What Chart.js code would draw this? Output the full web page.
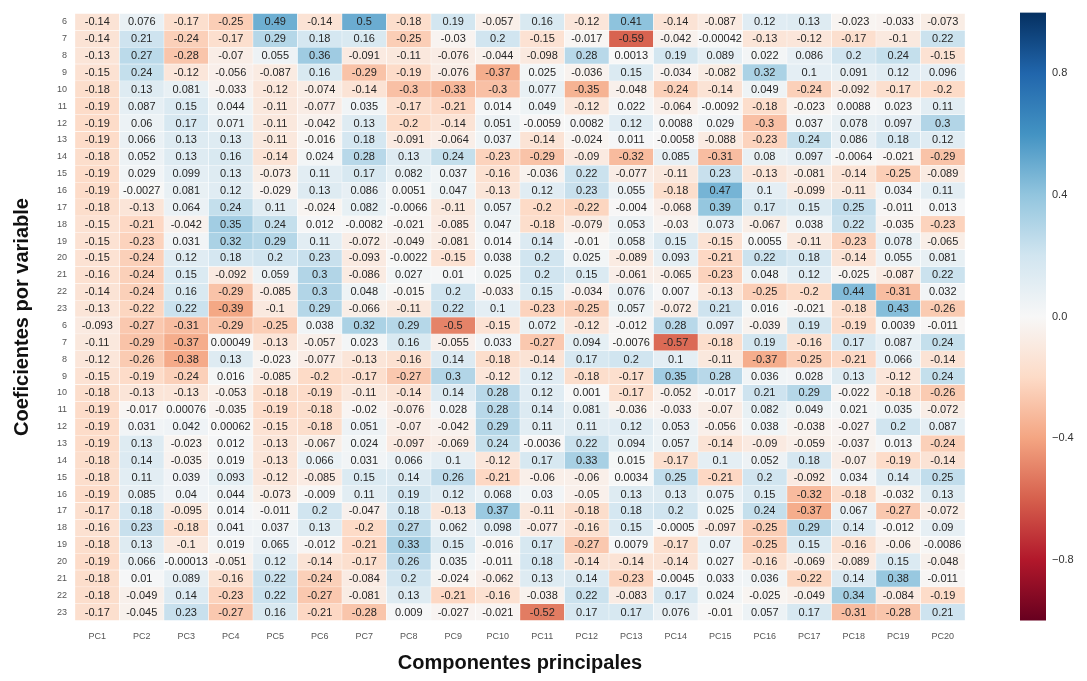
<!DOCTYPE html>
<html>
<head>
<meta charset="utf-8">
<script src="https://cdn.jsdelivr.net/npm/chart.js@4.4.1/dist/chart.umd.min.js"></script>
<style>
  html, body { margin: 0; padding: 0; background: #ffffff; }
  #wrap { position: relative; width: 1087px; height: 681px; overflow: hidden; }
  #main { position: absolute; left: 0; top: 0; width: 1000px; height: 681px; }
  #cbar { position: absolute; left: 1000px; top: 0; width: 87px; height: 681px; }
</style>
</head>
<body>
<div id="wrap">
  <div id="main"><canvas id="c1"></canvas></div>
  <div id="cbar"><canvas id="c2"></canvas></div>
</div>
<script>
// ---------------- DATA ----------------
const colLabels = ["PC1","PC2","PC3","PC4","PC5","PC6","PC7","PC8","PC9","PC10",
                   "PC11","PC12","PC13","PC14","PC15","PC16","PC17","PC18","PC19","PC20"];
const rowLabels = ["6","7","8","9","10","11","12","13","14","15","16","17","18","19","20","21","22","23",
                   "6","7","8","9","10","11","12","13","14","15","16","17","18","19","20","21","22","23"];
const colorbarTicks = [-0.8, -0.4, 0.0, 0.4, 0.8];

// first block of variables (rows 6..23)
const blockA = [
  [-0.14, 0.076, -0.17, -0.25, 0.49, -0.14, 0.5, -0.18, 0.19, -0.057, 0.16, -0.12, 0.41, -0.14, -0.087, 0.12, 0.13, -0.023, -0.033, -0.073],
  [-0.14, 0.21, -0.24, -0.17, 0.29, 0.18, 0.16, -0.25, -0.03, 0.2, -0.15, -0.017, -0.59, -0.042, -0.00042, -0.13, -0.12, -0.17, -0.1, 0.22],
  [-0.13, 0.27, -0.28, -0.07, 0.055, 0.36, -0.091, -0.11, -0.076, -0.044, -0.098, 0.28, 0.0013, 0.19, 0.089, 0.022, 0.086, 0.2, 0.24, -0.15],
  [-0.15, 0.24, -0.12, -0.056, -0.087, 0.16, -0.29, -0.19, -0.076, -0.37, 0.025, -0.036, 0.15, -0.034, -0.082, 0.32, 0.1, 0.091, 0.12, 0.096],
  [-0.18, 0.13, 0.081, -0.033, -0.12, -0.074, -0.14, -0.3, -0.33, -0.3, 0.077, -0.35, -0.048, -0.24, -0.14, 0.049, -0.24, -0.092, -0.17, -0.2],
  [-0.19, 0.087, 0.15, 0.044, -0.11, -0.077, 0.035, -0.17, -0.21, 0.014, 0.049, -0.12, 0.022, -0.064, -0.0092, -0.18, -0.023, 0.0088, 0.023, 0.11],
  [-0.19, 0.06, 0.17, 0.071, -0.11, -0.042, 0.13, -0.2, -0.14, 0.051, -0.0059, 0.0082, 0.12, 0.0088, 0.029, -0.3, 0.037, 0.078, 0.097, 0.3],
  [-0.19, 0.066, 0.13, 0.13, -0.11, -0.016, 0.18, -0.091, -0.064, 0.037, -0.14, -0.024, 0.011, -0.0058, -0.088, -0.23, 0.24, 0.086, 0.18, 0.12],
  [-0.18, 0.052, 0.13, 0.16, -0.14, 0.024, 0.28, 0.13, 0.24, -0.23, -0.29, -0.09, -0.32, 0.085, -0.31, 0.08, 0.097, -0.0064, -0.021, -0.29],
  [-0.19, 0.029, 0.099, 0.13, -0.073, 0.11, 0.17, 0.082, 0.037, -0.16, -0.036, 0.22, -0.077, -0.11, 0.23, -0.13, -0.081, -0.14, -0.25, -0.089],
  [-0.19, -0.0027, 0.081, 0.12, -0.029, 0.13, 0.086, 0.0051, 0.047, -0.13, 0.12, 0.23, 0.055, -0.18, 0.47, 0.1, -0.099, -0.11, 0.034, 0.11],
  [-0.18, -0.13, 0.064, 0.24, 0.11, -0.024, 0.082, -0.0066, -0.11, 0.057, -0.2, -0.22, -0.004, -0.068, 0.39, 0.17, 0.15, 0.25, -0.011, 0.013],
  [-0.15, -0.21, -0.042, 0.35, 0.24, 0.012, -0.0082, -0.021, -0.085, 0.047, -0.18, -0.079, 0.053, -0.03, 0.073, -0.067, 0.038, 0.22, -0.035, -0.23],
  [-0.15, -0.23, 0.031, 0.32, 0.29, 0.11, -0.072, -0.049, -0.081, 0.014, 0.14, -0.01, 0.058, 0.15, -0.15, 0.0055, -0.11, -0.23, 0.078, -0.065],
  [-0.15, -0.24, 0.12, 0.18, 0.2, 0.23, -0.093, -0.0022, -0.15, 0.038, 0.2, 0.025, -0.089, 0.093, -0.21, 0.22, 0.18, -0.14, 0.055, 0.081],
  [-0.16, -0.24, 0.15, -0.092, 0.059, 0.3, -0.086, 0.027, 0.01, 0.025, 0.2, 0.15, -0.061, -0.065, -0.23, 0.048, 0.12, -0.025, -0.087, 0.22],
  [-0.14, -0.24, 0.16, -0.29, -0.085, 0.3, 0.048, -0.015, 0.2, -0.033, 0.15, -0.034, 0.076, 0.007, -0.13, -0.25, -0.2, 0.44, -0.31, 0.032],
  [-0.13, -0.22, 0.22, -0.39, -0.1, 0.29, -0.066, -0.11, 0.22, 0.1, -0.23, -0.25, 0.057, -0.072, 0.21, 0.016, -0.021, -0.18, 0.43, -0.26]
];

// second block of variables (rows 6..23)
const blockB = [
  [-0.093, -0.27, -0.31, -0.29, -0.25, 0.038, 0.32, 0.29, -0.5, -0.15, 0.072, -0.12, -0.012, 0.28, 0.097, -0.039, 0.19, -0.19, 0.0039, -0.011],
  [-0.11, -0.29, -0.37, 0.00049, -0.13, -0.057, 0.023, 0.16, -0.055, 0.033, -0.27, 0.094, -0.0076, -0.57, -0.18, 0.19, -0.16, 0.17, 0.087, 0.24],
  [-0.12, -0.26, -0.38, 0.13, -0.023, -0.077, -0.13, -0.16, 0.14, -0.18, -0.14, 0.17, 0.2, 0.1, -0.11, -0.37, -0.25, -0.21, 0.066, -0.14],
  [-0.15, -0.19, -0.24, 0.016, -0.085, -0.2, -0.17, -0.27, 0.3, -0.12, 0.12, -0.18, -0.17, 0.35, 0.28, 0.036, 0.028, 0.13, -0.12, 0.24],
  [-0.18, -0.13, -0.13, -0.053, -0.18, -0.19, -0.11, -0.14, 0.14, 0.28, 0.12, 0.001, -0.17, -0.052, -0.017, 0.21, 0.29, -0.022, -0.18, -0.26],
  [-0.19, -0.017, 0.00076, -0.035, -0.19, -0.18, -0.02, -0.076, 0.028, 0.28, 0.14, 0.081, -0.036, -0.033, -0.07, 0.082, 0.049, 0.021, 0.035, -0.072],
  [-0.19, 0.031, 0.042, 0.00062, -0.15, -0.18, 0.051, -0.07, -0.042, 0.29, 0.11, 0.11, 0.12, 0.053, -0.056, 0.038, -0.038, -0.027, 0.2, 0.087],
  [-0.19, 0.13, -0.023, 0.012, -0.13, -0.067, 0.024, -0.097, -0.069, 0.24, -0.0036, 0.22, 0.094, 0.057, -0.14, -0.09, -0.059, -0.037, 0.013, -0.24],
  [-0.18, 0.14, -0.035, 0.019, -0.13, 0.066, 0.031, 0.066, 0.1, -0.12, 0.17, 0.33, 0.015, -0.17, 0.1, 0.052, 0.18, -0.07, -0.19, -0.14],
  [-0.18, 0.11, 0.039, 0.093, -0.12, -0.085, 0.15, 0.14, 0.26, -0.21, -0.06, -0.06, 0.0034, 0.25, -0.21, 0.2, -0.092, 0.034, 0.14, 0.25],
  [-0.19, 0.085, 0.04, 0.044, -0.073, -0.009, 0.11, 0.19, 0.12, 0.068, 0.03, -0.05, 0.13, 0.13, 0.075, 0.15, -0.32, -0.18, -0.032, 0.13],
  [-0.17, 0.18, -0.095, 0.014, -0.011, 0.2, -0.047, 0.18, -0.13, 0.37, -0.11, -0.18, 0.18, 0.2, 0.025, 0.24, -0.37, 0.067, -0.27, -0.072],
  [-0.16, 0.23, -0.18, 0.041, 0.037, 0.13, -0.2, 0.27, 0.062, 0.098, -0.077, -0.16, 0.15, -0.0005, -0.097, -0.25, 0.29, 0.14, -0.012, 0.09],
  [-0.18, 0.13, -0.1, 0.019, 0.065, -0.012, -0.21, 0.33, 0.15, -0.016, 0.17, -0.27, 0.0079, -0.17, 0.07, -0.25, 0.15, -0.16, -0.06, -0.0086],
  [-0.19, 0.066, -0.00013, -0.051, 0.12, -0.14, -0.17, 0.26, 0.035, -0.011, 0.18, -0.14, -0.14, -0.14, 0.027, -0.16, -0.069, -0.089, 0.15, -0.048],
  [-0.18, 0.01, 0.089, -0.16, 0.22, -0.24, -0.084, 0.2, -0.024, -0.062, 0.13, 0.14, -0.23, -0.0045, 0.033, 0.036, -0.22, 0.14, 0.38, -0.011],
  [-0.18, -0.049, 0.14, -0.23, 0.22, -0.27, -0.081, 0.13, -0.21, -0.16, -0.038, 0.22, -0.083, 0.17, 0.024, -0.025, -0.049, 0.34, -0.084, -0.19],
  [-0.17, -0.045, 0.23, -0.27, 0.16, -0.21, -0.28, 0.009, -0.027, -0.021, -0.52, 0.17, 0.17, 0.076, -0.01, 0.057, 0.17, -0.31, -0.28, 0.21]
];

const values = blockA.concat(blockB);
const vmin = -1, vmax = 1;

// ---------------- COLORMAP (RdBu) ----------------
const RdBu = [
  [103,0,31],[178,24,43],[214,96,77],[244,165,130],[253,219,199],[247,247,247],
  [209,229,240],[146,197,222],[67,147,195],[33,102,172],[5,48,97]
];
function cmap(v) {
  let t = (v - vmin) / (vmax - vmin);
  t = Math.max(0, Math.min(1, t));
  const p = t * (RdBu.length - 1);
  const i = Math.min(RdBu.length - 2, Math.floor(p));
  const f = p - i;
  const a = RdBu[i], b = RdBu[i + 1];
  const c = a.map((x, k) => Math.round(x + (b[k] - x) * f));
  return `rgb(${c[0]},${c[1]},${c[2]})`;
}

const FONT = '"Liberation Sans", Arial, Helvetica, sans-serif';

// ---------------- MAIN HEATMAP ----------------
const datasets = values.map((row, r) => ({
  label: rowLabels[r],
  data: row.map(() => [r, r + 1]),
  backgroundColor: row.map(v => cmap(v)),
  borderColor: 'rgba(255,255,255,0.9)',
  borderWidth: 0.5,
  borderSkipped: false,
  barPercentage: 1,
  categoryPercentage: 1
}));

const annotate = {
  id: 'annotate',
  afterDatasetsDraw(chart) {
    const ctx = chart.ctx;
    ctx.save();
    ctx.font = '11px ' + FONT;
    ctx.fillStyle = '#262626';
    ctx.textAlign = 'center';
    ctx.textBaseline = 'middle';
    values.forEach((row, r) => {
      const meta = chart.getDatasetMeta(r);
      meta.data.forEach((el, c) => {
        const p = el.getProps(['x', 'y', 'base'], true);
        ctx.fillText(String(row[c]), p.x, (p.y + p.base) / 2 + 0.5);
      });
    });
    ctx.restore();
  }
};

new Chart(document.getElementById('c1'), {
  type: 'bar',
  data: { labels: colLabels, datasets },
  options: {
    responsive: true,
    maintainAspectRatio: false,
    animation: false,
    layout: { padding: { left: 0, right: 35, top: 4.4, bottom: 0 } },
    plugins: { legend: { display: false }, tooltip: { enabled: false } },
    scales: {
      x: {
        stacked: true,
        grid: { display: false, drawTicks: false },
        border: { display: false },
        ticks: { color: '#555', font: { family: FONT, size: 9 }, padding: 11, maxRotation: 0, autoSkip: false },
        title: { display: true, text: 'Componentes principales', color: '#111',
                 font: { family: FONT, size: 20, weight: 'bold' }, padding: { top: 0, bottom: 6 } },
        afterFit(axis) { axis.height = 60.4; }
      },
      y: {
        type: 'linear',
        stacked: false,
        min: 0, max: rowLabels.length,
        reverse: true,
        grid: { display: false, drawTicks: false },
        border: { display: false },
        afterBuildTicks(axis) { axis.ticks = rowLabels.map((l, i) => ({ value: i + 0.5 })); },
        ticks: { autoSkip: false, color: '#555', font: { family: FONT, size: 9 }, padding: 8,
                 callback: (v, i) => rowLabels[i] },
        title: { display: true, text: 'Coeficientes por variable', color: '#111',
                 font: { family: FONT, size: 20, weight: 'bold' }, padding: { top: 10, bottom: 0 } },
        afterFit(axis) { axis.width = 75; }
      }
    }
  },
  plugins: [annotate]
});

// ---------------- COLORBAR ----------------
new Chart(document.getElementById('c2'), {
  type: 'bar',
  data: {
    labels: ['cb'],
    datasets: [{
      data: [[vmin, vmax]],
      barPercentage: 1,
      categoryPercentage: 1,
      borderWidth: 0,
      backgroundColor(context) {
        const chart = context.chart;
        const ys = chart.scales.y;
        if (!chart.chartArea || !ys) return '#ccc';
        const g = chart.ctx.createLinearGradient(0, ys.getPixelForValue(vmin), 0, ys.getPixelForValue(vmax));
        RdBu.forEach((c, i) => g.addColorStop(i / (RdBu.length - 1), `rgb(${c[0]},${c[1]},${c[2]})`));
        return g;
      }
    }]
  },
  options: {
    responsive: true,
    maintainAspectRatio: false,
    animation: false,
    layout: { padding: { left: 20, right: 0, top: 4.4, bottom: 60.4 } },
    plugins: { legend: { display: false }, tooltip: { enabled: false } },
    scales: {
      x: { display: false },
      y: {
        position: 'right',
        min: vmin, max: vmax,
        grid: { display: false, drawTicks: false },
        border: { display: false },
        afterBuildTicks(axis) { axis.ticks = colorbarTicks.map(v => ({ value: v })); },
        ticks: { color: '#333', font: { family: FONT, size: 11 }, padding: 6,
                 callback: v => (v < 0 ? '\u2212' : '') + Math.abs(v).toFixed(1) },
        afterFit(axis) { axis.width = 41; }
      }
    }
  }
});
</script>
</body>
</html>
